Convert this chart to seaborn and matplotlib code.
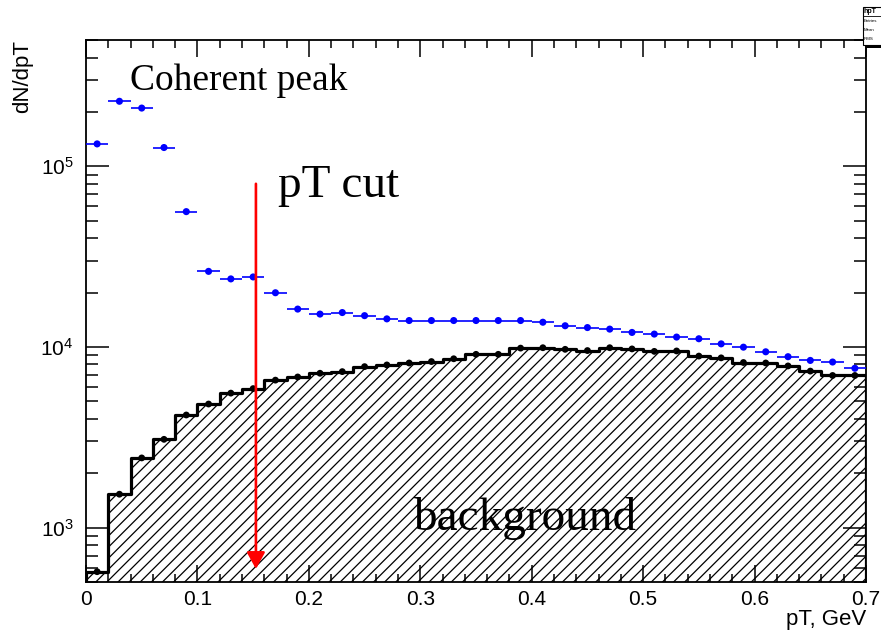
import numpy as np
import pandas as pd
import matplotlib
matplotlib.use("Agg")
import matplotlib.pyplot as plt
from matplotlib.ticker import MultipleLocator, LogLocator, NullFormatter, FuncFormatter
from matplotlib.patches import Rectangle
from matplotlib.lines import Line2D
import seaborn as sns

# Binning: 35 bins of 0.02 GeV between 0 and 0.7 GeV
pt_min, pt_max, n_bins = 0.0, 0.7, 35
bin_edges = np.linspace(pt_min, pt_max, n_bins + 1)
bin_centers = 0.5 * (bin_edges[:-1] + bin_edges[1:])

# dN/dpT for all selected events (blue points)
signal = [133000, 229000, 210000, 127000, 56100, 26200, 23800, 24400, 19950,
          16200, 15200, 15500, 14900, 14300, 14000, 14000, 14000, 14000, 14000,
          14000, 13700, 13100, 12800, 12550, 12030, 11780, 11340, 11100, 10400,
          9970, 9400, 8830, 8420, 8250, 7620]

# dN/dpT for the background sample (black hatched histogram)
background = [570, 1530, 2430, 3080, 4200, 4830, 5550, 5880, 6550, 6820,
              7150, 7300, 7780, 7950, 8150, 8300, 8600, 9100, 9100, 9850,
              9900, 9700, 9550, 9900, 9750, 9450, 9500, 8900, 8700, 8200,
              8150, 7850, 7350, 6950, 6950]

pt_cut = 0.1525

df = pd.DataFrame({"pt": bin_centers, "signal": signal, "background": background})

sns.set_style("ticks")
plt.rcParams["font.family"] = ["Liberation Sans", "DejaVu Sans"]
plt.rcParams["mathtext.default"] = "regular"
plt.rcParams["hatch.linewidth"] = 0.9
plt.rcParams["hatch.color"] = "black"
for key in ["text.color", "axes.labelcolor", "xtick.color", "ytick.color",
            "axes.edgecolor", "xtick.labelcolor", "ytick.labelcolor"]:
    plt.rcParams[key] = "black"

fig, ax = plt.subplots(figsize=(8.81, 6.31), dpi=100)
fig.subplots_adjust(left=0.0976, right=0.983, bottom=0.0777, top=0.9366)
ax.set_yscale("log")

# Background: hatched step histogram
n_before = len(ax.collections)
sns.histplot(data=df, x="pt", weights="background", bins=n_bins,
             binrange=(pt_min, pt_max), element="step", fill=True,
             color="black", hatch="///", linewidth=2.3, ax=ax, zorder=2)
for coll in ax.collections[n_before:]:
    coll.set_facecolor("none")
    coll.set_edgecolor("black")
    coll.set_alpha(1)
sns.scatterplot(data=df, x="pt", y="background", color="black", s=24,
                edgecolor="none", ax=ax, zorder=3)

# All events: points with bin-width horizontal bars
ax.errorbar(df["pt"], df["signal"], xerr=(pt_max - pt_min) / n_bins / 2,
            fmt="none", ecolor="blue", elinewidth=1.2, capsize=0, zorder=4)
sns.scatterplot(data=df, x="pt", y="signal", color="blue", s=26,
                edgecolor="none", ax=ax, zorder=5)

ax.set_xlim(pt_min, pt_max)
ax.set_ylim(500, 5e5)

# ROOT-like axes: inward ticks on all four sides
ax.xaxis.set_major_locator(MultipleLocator(0.1))
ax.xaxis.set_minor_locator(MultipleLocator(0.02))
ax.xaxis.set_major_formatter(FuncFormatter(lambda v, p: "0" if abs(v) < 1e-9 else f"{v:.1f}"))
ax.yaxis.set_major_locator(LogLocator(base=10, numticks=10))
ax.yaxis.set_minor_locator(LogLocator(base=10, subs=np.arange(2, 10), numticks=30))
ax.yaxis.set_minor_formatter(NullFormatter())

ax.tick_params(axis="both", which="both", direction="in", top=True, right=True,
               width=1.1, color="black", labelcolor="black", labelsize=15)
ax.tick_params(axis="x", which="major", length=12, pad=6)
ax.tick_params(axis="x", which="minor", length=6)
ax.tick_params(axis="y", which="major", length=16.5, pad=9)
ax.tick_params(axis="y", which="minor", length=8.5)
for s in ax.spines.values():
    s.set_linewidth(1.3)
    s.set_color("black")

ax.set_xlabel("pT, GeV", loc="right", fontsize=16, labelpad=0, color="black")
ax.set_ylabel("dN/dpT", loc="top", fontsize=16, color="black")
ax.yaxis.set_label_coords(-0.068, 1.0)

# pT cut marker
ax.annotate("", xy=(pt_cut, 590), xytext=(pt_cut, 80000),
            arrowprops=dict(arrowstyle="-|>,head_length=1.0,head_width=0.55",
                            color="red", lw=1.9, mutation_scale=10,
                            shrinkA=0, shrinkB=0), zorder=6)

serif = ["Liberation Serif", "DejaVu Serif"]
ax.text(0.0395, 263000, "Coherent peak", family=serif, fontsize=27,
        ha="left", va="baseline", color="black", zorder=7)
ax.text(0.1723, 68000, "pT cut", family=serif, fontsize=34,
        ha="left", va="baseline", color="black", zorder=7)
ax.text(0.2935, 970, "background", family=serif, fontsize=34,
        ha="left", va="baseline", color="black", zorder=7)

# Statistics box peeking in at the top-right corner
W, H = 881.0, 631.0
fig.patches.append(Rectangle((866 / W, 1 - 48 / H), 16 / W, 3 / H,
                             transform=fig.transFigure, facecolor="black",
                             edgecolor="none", zorder=9))
fig.patches.append(Rectangle((862.5 / W, 1 - 45 / H), 20 / W, 38 / H,
                             transform=fig.transFigure, facecolor="white",
                             edgecolor="black", lw=0.8, zorder=10))
fig.lines.append(Line2D([862.5 / W, 1.0], [1 - 16 / H, 1 - 16 / H],
                        transform=fig.transFigure, color="black", lw=0.6, zorder=11))
fig.text(864 / W, 1 - 13 / H, "hpT", fontsize=5, weight="bold", zorder=11)
for yy, txt in [(22, "Entries"), (31, "Mean"), (40, "RMS")]:
    fig.text(864 / W, 1 - yy / H, txt, fontsize=3.2, zorder=11)

fig.savefig("out.png", dpi=100, facecolor="white")
